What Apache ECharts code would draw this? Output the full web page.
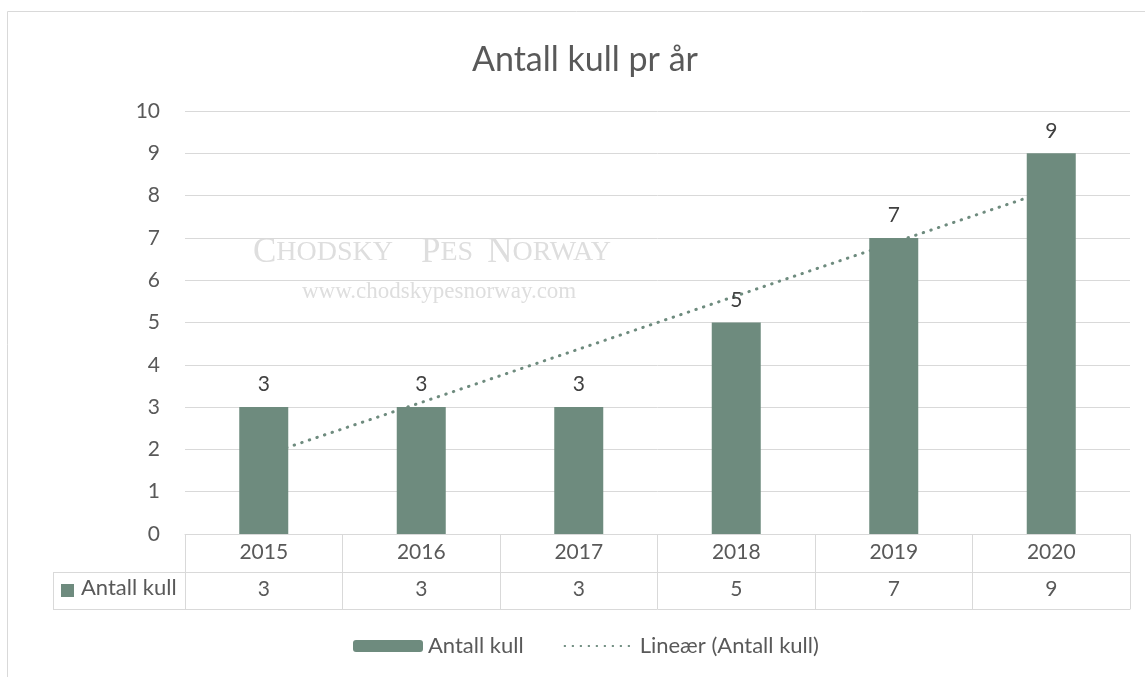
<!DOCTYPE html>
<html>
<head>
<meta charset="utf-8">
<title>Antall kull pr år</title>
<script src="https://cdn.jsdelivr.net/npm/echarts@6/dist/echarts.min.js"></script>
<style>
  html, body { margin: 0; padding: 0; background: #fff; }
  #chart { width: 1145px; height: 677px; }
</style>
</head>
<body>
<div id="chart"></div>
<script>
// data
const years = ['2015', '2016', '2017', '2018', '2019', '2020'];
const counts = [3, 3, 3, 5, 7, 9];
// linear trendline (Lineær) values at each year
const trend = [1.86, 3.11, 4.37, 5.63, 6.89, 8.14];

const FONT = 'Lato, "Open Sans", sans-serif';
const SERIF = '"Liberation Serif", serif';
const BAR = '#6e8b7e';
const GRID = '#d9d9d9';
const TXT = '#595959';
const WM = '#dedede';

var myChart = echarts.init(document.getElementById('chart'));
myChart.setOption({
    animation: false,
    title: {
        text: 'Antall kull pr år',
        left: 467,
        top: 38,
        textStyle: { fontFamily: FONT, fontSize: 34, fontWeight: 'normal', color: TXT }
    },
    legend: {
        left: 348,
        top: 630,
        itemWidth: 70,
        itemHeight: 12,
        itemGap: 40,
        data: [
            'Antall kull',
            // hide the marker dot on the dotted trendline key
            { name: 'Lineær (Antall kull)', itemStyle: { opacity: 0 } }
        ],
        textStyle: { fontFamily: FONT, fontSize: 22, color: TXT }
    },
    grid: { left: 185, right: 15, top: 111, bottom: 143 },
    xAxis: [{
        // years row of the data table
        type: 'category',
        data: years,
        position: 'bottom',
        axisLine: { lineStyle: { color: GRID, width: 1 } },
        axisTick: { show: true, length: 75, lineStyle: { color: GRID, width: 1 } },
        axisLabel: { margin: 8, fontFamily: FONT, fontSize: 21, color: TXT },
        splitLine: { show: false }
    }, {
        // values row of the data table
        type: 'category',
        data: years,
        position: 'bottom',
        offset: 38,
        axisLine: { lineStyle: { color: GRID, width: 1 } },
        axisTick: { show: false },
        axisLabel: {
            margin: 7, fontFamily: FONT, fontSize: 21, color: TXT,
            formatter: (v, i) => String(counts[i])
        }
    }, {
        // bottom edge of the table
        type: 'category',
        data: years,
        position: 'bottom',
        offset: 75,
        axisLine: { lineStyle: { color: GRID, width: 1 } },
        axisTick: { show: false },
        axisLabel: { show: false }
    }],
    yAxis: {
        type: 'value',
        min: 0,
        max: 10,
        interval: 1,
        axisLine: { show: false },
        axisTick: { show: false },
        axisLabel: { margin: 25, fontFamily: FONT, fontSize: 21, color: TXT },
        splitLine: { lineStyle: { color: GRID, width: 1 } }
    },
    series: [{
        name: 'Antall kull',
        type: 'bar',
        data: counts,
        barWidth: 49,
        z: 3,
        itemStyle: { color: BAR },
        label: {
            show: true,
            position: 'top',
            distance: 12,
            fontFamily: FONT,
            fontSize: 21,
            color: '#404040'
        }
    }, {
        name: 'Lineær (Antall kull)',
        type: 'line',
        data: trend,
        symbol: 'none',
        z: 1,
        itemStyle: { color: BAR },
        lineStyle: { color: BAR, width: 3, type: [0.5, 7.5], cap: 'round' }
    }],
    graphic: [
        // chart border
        { type: 'rect', shape: { x: 7.5, y: 11.5, width: 1160, height: 700 },
          style: { fill: 'none', stroke: GRID, lineWidth: 1 }, silent: true },
        // watermark
        { type: 'text', left: 253, top: 235, z: 0, silent: true,
          style: {
              text: '{b|C}{s|HODSKY}{s|    }{b|P}{s|ES}{s|  }{b|N}{s|ORWAY}',
              rich: {
                  b: { fontFamily: SERIF, fontSize: 35, fill: WM },
                  s: { fontFamily: SERIF, fontSize: 28, fill: WM }
              }
          } },
        { type: 'text', left: 302, top: 280, z: 0, silent: true,
          style: { text: 'www.chodskypesnorway.com', fontFamily: SERIF,
                   fontSize: 23, fill: WM } },
        // legend-key cell of the data table
        { type: 'line', shape: { x1: 53, y1: 572.5, x2: 185, y2: 572.5 }, style: { stroke: GRID, lineWidth: 1 } },
        { type: 'line', shape: { x1: 53, y1: 609.5, x2: 185, y2: 609.5 }, style: { stroke: GRID, lineWidth: 1 } },
        { type: 'line', shape: { x1: 53.5, y1: 572, x2: 53.5, y2: 610 }, style: { stroke: GRID, lineWidth: 1 } },
        { type: 'rect', shape: { x: 61, y: 584, width: 13, height: 13 }, style: { fill: BAR } },
        { type: 'text', left: 81, top: 577,
          style: { text: 'Antall kull', fontFamily: FONT, fontSize: 22, fill: TXT } }
    ]
});
</script>
</body>
</html>
